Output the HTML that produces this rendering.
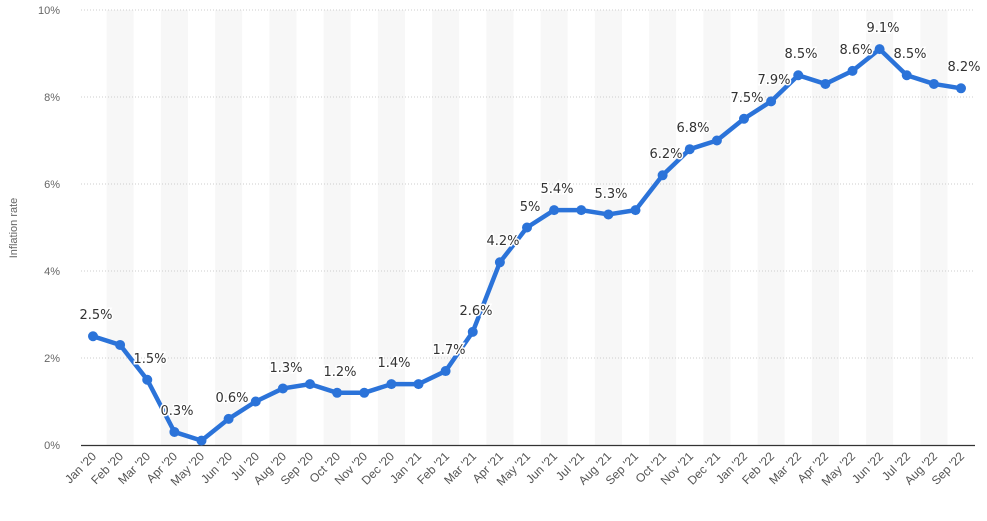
<!DOCTYPE html>
<html><head><style>body{margin:0;background:#fff}svg{display:block}</style></head><body>
<svg width="987" height="521" xmlns="http://www.w3.org/2000/svg" font-family="Liberation Sans, sans-serif">
<g fill="#f7f7f7">
<rect x="106.6" y="10" width="27.1" height="435"/><rect x="160.9" y="10" width="27.1" height="435"/><rect x="215.1" y="10" width="27.1" height="435"/><rect x="269.4" y="10" width="27.1" height="435"/><rect x="323.6" y="10" width="27.1" height="435"/><rect x="377.9" y="10" width="27.1" height="435"/><rect x="432.1" y="10" width="27.1" height="435"/><rect x="486.4" y="10" width="27.1" height="435"/><rect x="540.6" y="10" width="27.1" height="435"/><rect x="594.9" y="10" width="27.1" height="435"/><rect x="649.1" y="10" width="27.1" height="435"/><rect x="703.4" y="10" width="27.1" height="435"/><rect x="757.6" y="10" width="27.1" height="435"/><rect x="811.9" y="10" width="27.1" height="435"/><rect x="866.1" y="10" width="27.1" height="435"/><rect x="920.4" y="10" width="27.1" height="435"/>
</g>
<g stroke="#ccc" stroke-dasharray="1,2">
<line x1="81" x2="975" y1="10" y2="10"/><line x1="81" x2="975" y1="97" y2="97"/><line x1="81" x2="975" y1="184" y2="184"/><line x1="81" x2="975" y1="271" y2="271"/><line x1="81" x2="975" y1="358" y2="358"/>
</g>
<line x1="81" x2="975" y1="445.5" y2="445.5" stroke="#333" stroke-width="1.2"/>
<g font-size="11" fill="#666" text-anchor="end">
<text x="60" y="14">10%</text><text x="60" y="101">8%</text><text x="60" y="188">6%</text><text x="60" y="275">4%</text><text x="60" y="362">2%</text><text x="60" y="449">0%</text>
</g>
<text transform="translate(17,228) rotate(-90)" font-size="11" fill="#666" text-anchor="middle">Inflation rate</text>
<polyline fill="none" stroke="#2b73d9" stroke-width="4.5" stroke-linejoin="round" points="93,336.25 120.1,344.95 147.25,379.75 174.4,431.95 201.5,440.65 228.6,418.9 255.75,401.5 282.9,388.45 310,384.1 337.1,392.8 364.25,392.8 391.4,384.1 418.5,384.1 445.6,371.05 472.75,331.9 499.9,262.3 527,227.5 554.1,210.1 581.25,210.1 608.4,214.45 635.5,210.1 662.6,175.3 689.75,149.2 716.9,140.5 744,118.75 771.1,101.35 798.25,75.25 825.4,83.95 852.5,70.9 879.6,49.15 906.75,75.25 933.9,83.95 961,88.3"/>
<g fill="#2b73d9">
<circle cx="93" cy="336.25" r="5"/><circle cx="120.1" cy="344.95" r="5"/><circle cx="147.25" cy="379.75" r="5"/><circle cx="174.4" cy="431.95" r="5"/><circle cx="201.5" cy="440.65" r="5"/><circle cx="228.6" cy="418.9" r="5"/><circle cx="255.75" cy="401.5" r="5"/><circle cx="282.9" cy="388.45" r="5"/><circle cx="310" cy="384.1" r="5"/><circle cx="337.1" cy="392.8" r="5"/><circle cx="364.25" cy="392.8" r="5"/><circle cx="391.4" cy="384.1" r="5"/><circle cx="418.5" cy="384.1" r="5"/><circle cx="445.6" cy="371.05" r="5"/><circle cx="472.75" cy="331.9" r="5"/><circle cx="499.9" cy="262.3" r="5"/><circle cx="527" cy="227.5" r="5"/><circle cx="554.1" cy="210.1" r="5"/><circle cx="581.25" cy="210.1" r="5"/><circle cx="608.4" cy="214.45" r="5"/><circle cx="635.5" cy="210.1" r="5"/><circle cx="662.6" cy="175.3" r="5"/><circle cx="689.75" cy="149.2" r="5"/><circle cx="716.9" cy="140.5" r="5"/><circle cx="744" cy="118.75" r="5"/><circle cx="771.1" cy="101.35" r="5"/><circle cx="798.25" cy="75.25" r="5"/><circle cx="825.4" cy="83.95" r="5"/><circle cx="852.5" cy="70.9" r="5"/><circle cx="879.6" cy="49.15" r="5"/><circle cx="906.75" cy="75.25" r="5"/><circle cx="933.9" cy="83.95" r="5"/><circle cx="961" cy="88.3" r="5"/>
</g>
<g font-family="DejaVu Sans, sans-serif" font-size="13" fill="#333" text-anchor="middle" stroke="#fff" stroke-width="3" paint-order="stroke">
<text x="96" y="319">2.5%</text><text x="150" y="363">1.5%</text><text x="177" y="415">0.3%</text><text x="232" y="402">0.6%</text><text x="286" y="372">1.3%</text><text x="340" y="376">1.2%</text><text x="394" y="367">1.4%</text><text x="449" y="354">1.7%</text><text x="476" y="315">2.6%</text><text x="503" y="245">4.2%</text><text x="530" y="211">5%</text><text x="557" y="193">5.4%</text><text x="611" y="198">5.3%</text><text x="666" y="158">6.2%</text><text x="693" y="132">6.8%</text><text x="747" y="102">7.5%</text><text x="774" y="84">7.9%</text><text x="801" y="58">8.5%</text><text x="856" y="54">8.6%</text><text x="883" y="32">9.1%</text><text x="910" y="58">8.5%</text><text x="964" y="71">8.2%</text>
</g>
<g font-size="12" fill="#555" text-anchor="end">
<text transform="translate(97,457) rotate(-45)">Jan '20</text>
<text transform="translate(124,457) rotate(-45)">Feb '20</text>
<text transform="translate(151,457) rotate(-45)">Mar '20</text>
<text transform="translate(178,457) rotate(-45)">Apr '20</text>
<text transform="translate(205,457) rotate(-45)">May '20</text>
<text transform="translate(233,457) rotate(-45)">Jun '20</text>
<text transform="translate(260,457) rotate(-45)">Jul '20</text>
<text transform="translate(287,457) rotate(-45)">Aug '20</text>
<text transform="translate(314,457) rotate(-45)">Sep '20</text>
<text transform="translate(341,457) rotate(-45)">Oct '20</text>
<text transform="translate(368,457) rotate(-45)">Nov '20</text>
<text transform="translate(395,457) rotate(-45)">Dec '20</text>
<text transform="translate(422,457) rotate(-45)">Jan '21</text>
<text transform="translate(450,457) rotate(-45)">Feb '21</text>
<text transform="translate(477,457) rotate(-45)">Mar '21</text>
<text transform="translate(504,457) rotate(-45)">Apr '21</text>
<text transform="translate(531,457) rotate(-45)">May '21</text>
<text transform="translate(558,457) rotate(-45)">Jun '21</text>
<text transform="translate(585,457) rotate(-45)">Jul '21</text>
<text transform="translate(612,457) rotate(-45)">Aug '21</text>
<text transform="translate(639,457) rotate(-45)">Sep '21</text>
<text transform="translate(667,457) rotate(-45)">Oct '21</text>
<text transform="translate(694,457) rotate(-45)">Nov '21</text>
<text transform="translate(721,457) rotate(-45)">Dec '21</text>
<text transform="translate(748,457) rotate(-45)">Jan '22</text>
<text transform="translate(775,457) rotate(-45)">Feb '22</text>
<text transform="translate(802,457) rotate(-45)">Mar '22</text>
<text transform="translate(829,457) rotate(-45)">Apr '22</text>
<text transform="translate(856,457) rotate(-45)">May '22</text>
<text transform="translate(884,457) rotate(-45)">Jun '22</text>
<text transform="translate(911,457) rotate(-45)">Jul '22</text>
<text transform="translate(938,457) rotate(-45)">Aug '22</text>
<text transform="translate(965,457) rotate(-45)">Sep '22</text>
</g>
</svg>
</body></html>
